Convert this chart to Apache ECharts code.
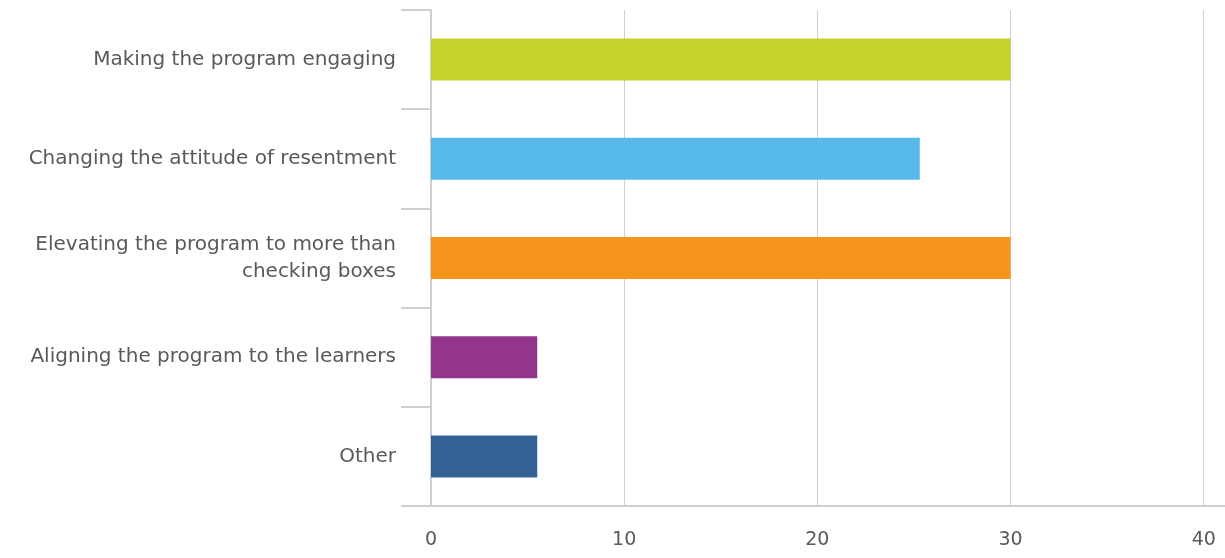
<!DOCTYPE html>
<html>
<head>
<meta charset="utf-8">
<script src="https://cdn.jsdelivr.net/npm/echarts@6/dist/echarts.min.js"></script>
<style>
  html, body { margin: 0; padding: 0; background: #fff; }
  #chart { width: 1225px; height: 558px; }
</style>
</head>
<body>
<div id="chart"></div>
<script>
const categories = [
  'Making the program engaging',
  'Changing the attitude of resentment',
  'Elevating the program to more than\nchecking boxes',
  'Aligning the program to the learners',
  'Other'
];
const values = [30, 25.3, 30, 5.5, 5.5];
const barColors = ['#c3d22d', '#57b9e7', '#f7941e', '#93358d', '#336195'];
const xTicks = [0, 10, 20, 30, 40];

const chart = echarts.init(document.getElementById('chart'));
const gridColor = '#cfcfcf';
const textColor = '#595959';
const font = '"DejaVu Sans", sans-serif';

chart.setOption({
  animation: false,
  grid: { left: 431, right: 0, top: 10, bottom: 52, containLabel: false },
  xAxis: {
    type: 'value',
    min: 0,
    max: 41.1,
    interval: 10,
    axisLine: { show: true, lineStyle: { color: gridColor, width: 2 } },
    axisTick: { show: false },
    axisLabel: {
      color: textColor, fontSize: 19, fontFamily: font, margin: 25,
      showMaxLabel: false,
      formatter: v => xTicks.includes(v) ? String(v) : ''
    },
    splitLine: { show: true, showMaxLine: false, lineStyle: { color: gridColor, width: 1 } }
  },
  yAxis: {
    type: 'category',
    inverse: true,
    data: categories,
    axisLine: { show: true, lineStyle: { color: gridColor, width: 2 } },
    axisTick: { show: true, length: 30, lineStyle: { color: gridColor, width: 2 } },
    axisLabel: {
      color: textColor, fontSize: 20, fontFamily: font, margin: 35,
      align: 'right', lineHeight: 27
    },
    splitLine: { show: false }
  },
  series: [{
    type: 'bar',
    barWidth: 42,
    data: values.map((v, i) => ({ value: v, itemStyle: { color: barColors[i] } }))
  }]
});
</script>
</body>
</html>
